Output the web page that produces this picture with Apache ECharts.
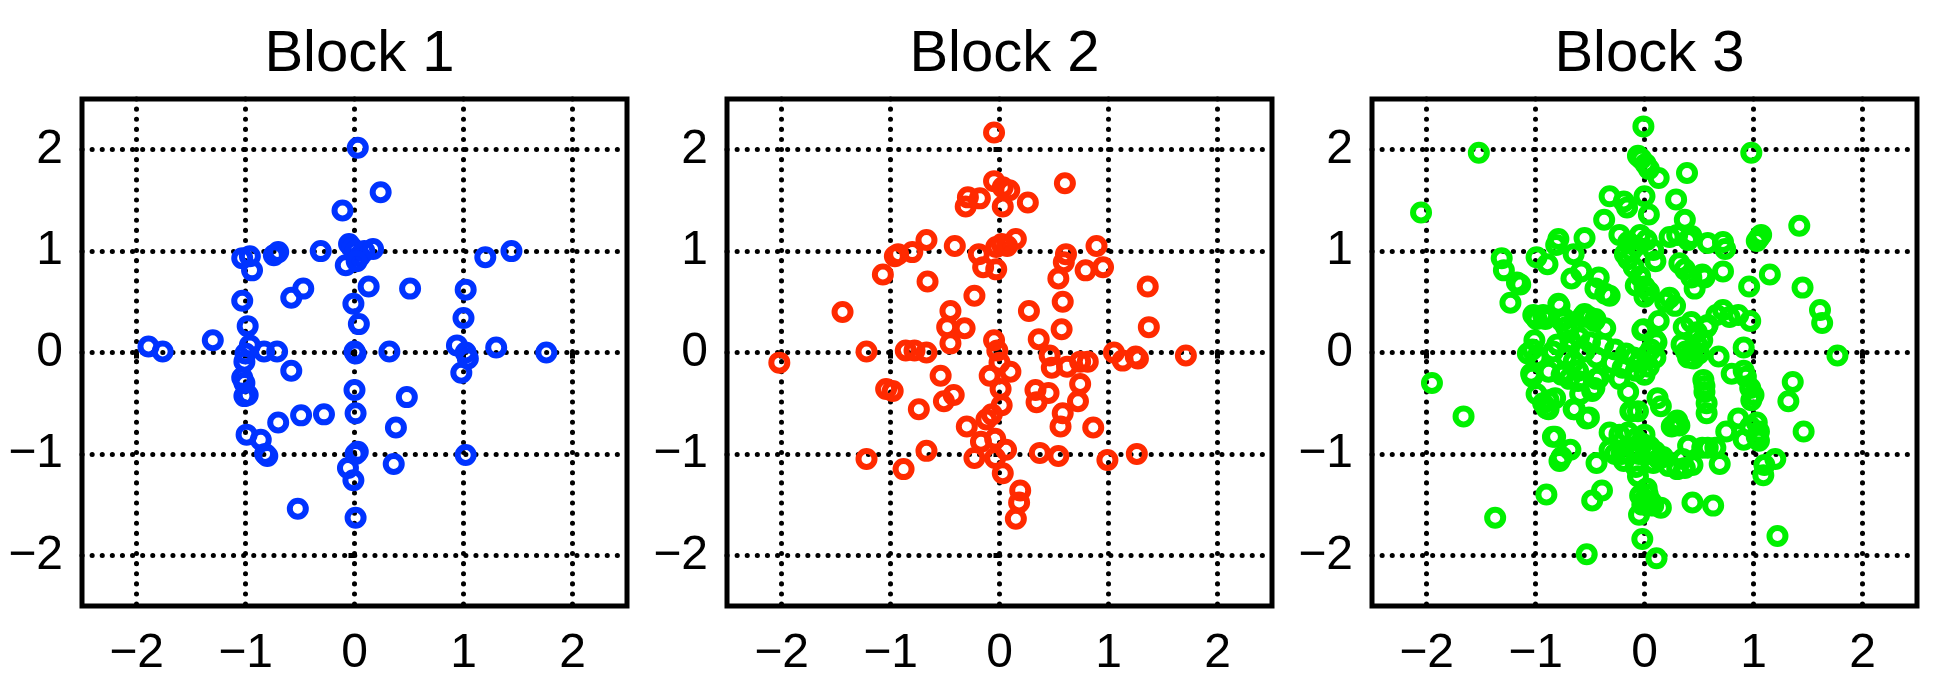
<!DOCTYPE html>
<html>
<head>
<meta charset="utf-8">
<script src="https://cdn.jsdelivr.net/npm/echarts@6/dist/echarts.min.js"></script>
<style>
html,body{margin:0;padding:0;background:#fff;}
#chart{width:1935px;height:678px;}
</style>
</head>
<body>
<div id="chart"></div>
<script>
const titles = ['Block 1', 'Block 2', 'Block 3'];
const colors = ['#0033ff', '#ff2a00', '#00f000'];
const tickValues = [-2, -1, 0, 1, 2];

const block1 = [
[0.03,2.02],[0.24,1.58],[-0.11,1.40],
[-0.05,1.07],[-0.02,1.03],[0.01,1.0],[0.05,0.95],[0.09,1.0],[0.17,1.02],[-0.08,0.86],[0.02,0.90],
[-0.31,1.0],[-0.74,0.96],[-0.70,0.99],[-1.03,0.93],[-0.96,0.95],[-0.94,0.81],
[1.20,0.94],[1.44,1.00],
[-0.58,0.54],[-0.47,0.63],[0.13,0.65],[0.51,0.63],[1.02,0.62],
[-1.03,0.51],[-0.01,0.48],[0.04,0.28],[1.00,0.34],[-0.98,0.26],
[-1.89,0.06],[-1.76,0.01],[-1.30,0.12],[-0.96,0.07],[-1.0,-0.01],[-1.01,-0.09],[-0.83,0.01],[-0.71,0.01],[-0.58,-0.18],
[-1.03,-0.25],[-1.01,-0.30],[-0.98,-0.42],[-1.01,-0.43],
[0,0.01],[0.01,-0.01],[0.32,0.01],[0.94,0.07],[1.02,0],[1.04,-0.06],[0.98,-0.20],[1.30,0.05],[1.76,0],
[0,-0.37],[0.48,-0.44],[0.01,-0.60],[-0.70,-0.69],[-0.49,-0.62],[-0.28,-0.61],[0.38,-0.74],[-0.99,-0.81],[-0.86,-0.86],
[-0.82,-1.0],[-0.80,-1.02],[0.01,-1.0],[0.03,-0.98],[-0.06,-1.14],[-0.01,-1.26],[0.36,-1.10],[1.02,-1.01],[-0.52,-1.54],[0.01,-1.63]
];

const block2 = [
[-0.05,2.17],[0.60,1.67],[-0.05,1.69],[0.03,1.63],[0.09,1.60],[0.03,1.44],[0.26,1.48],[-0.29,1.53],[-0.18,1.52],[-0.31,1.44],
[-0.67,1.11],[-0.41,1.05],[-0.96,0.95],[-0.93,0.97],[-0.80,0.99],[-1.07,0.77],[-0.66,0.70],
[-0.19,0.97],[-0.15,0.84],[-0.03,0.82],[-0.03,1.04],[0.02,1.07],[0.07,1.05],[0.15,1.12],
[0.61,0.97],[0.59,0.89],[0.54,0.73],[0.89,1.05],[0.79,0.81],[0.95,0.84],[1.36,0.65],
[-0.23,0.56],[0.58,0.50],[-1.44,0.40],[-0.45,0.41],[-0.48,0.25],[-0.32,0.24],[-0.45,0.09],[0.27,0.41],[0.57,0.23],[1.37,0.25],[-0.05,0.12],[0.36,0.13],
[-2.02,-0.10],[-1.22,0.01],[-0.86,0.02],[-0.78,0.02],[-0.67,0],
[-0.02,0.02],[0,-0.10],[0.10,-0.19],[-0.09,-0.23],[0.01,-0.36],[0.02,-0.52],[-0.07,-0.61],[-0.12,-0.66],[-0.17,-0.88],[-0.04,-0.85],
[0.06,-0.96],[-0.04,-1.04],[0.03,-1.19],[0.19,-1.36],[0.18,-1.48],[0.15,-1.64],[-0.23,-1.04],[-0.30,-0.73],
[0.46,-0.03],[0.48,-0.15],[0.62,-0.14],[0.74,-0.09],[0.81,-0.09],[0.74,-0.31],[0.72,-0.48],[0.33,-0.37],[0.34,-0.49],[0.45,-0.40],[0.58,-0.60],[0.56,-0.73],[0.86,-0.74],
[1.05,0],[1.13,-0.08],[1.25,-0.04],[1.27,-0.06],[1.71,-0.03],
[-1.04,-0.36],[-0.98,-0.38],[-0.54,-0.23],[-0.51,-0.48],[-0.42,-0.42],[-0.74,-0.56],
[-1.22,-1.05],[-0.88,-1.15],[-0.67,-0.97],[0.37,-0.99],[0.54,-1.02],[0.99,-1.06],[1.26,-1.0]
];

const block3 = [
[-0.01,2.23],[-1.52,1.97],[0.98,1.97],[-2.05,1.38],
[-0.06,1.94],[-0.03,1.91],[0.01,1.86],[0.04,1.81],[0.13,1.72],[0.39,1.77],
[-0.32,1.54],[-0.19,1.49],[-0.16,1.43],[0.0,1.54],[0.04,1.36],[0.29,1.51],[0.37,1.31],[-0.37,1.31],
[1.42,1.25],[1.07,1.16],[1.03,1.10],[1.05,1.13],
[-0.55,1.13],[-0.79,1.12],[-0.81,1.06],[-0.65,0.97],
[-0.23,1.16],[-0.15,1.09],[-0.08,1.05],[-0.04,1.16],[0.02,1.11],[0.08,1.01],[-0.15,0.92],[-0.10,0.84],[-0.04,0.75],[0.0,0.65],[-0.08,0.66],[0.0,0.55],[0.04,0.60],[0.10,0.90],[-0.18,0.97],[-0.12,1.0],
[0.23,1.14],[0.30,1.16],[0.40,1.11],[0.43,1.15],[0.58,1.08],[0.72,1.09],[0.74,1.02],
[-0.99,0.94],[-0.89,0.87],[-1.31,0.93],[-1.29,0.81],[-1.17,0.69],[-1.14,0.67],[-1.23,0.49],
[1.15,0.77],[1.45,0.64],[0.96,0.65],[0.72,0.80],
[0.32,0.88],[0.37,0.82],[0.43,0.74],[0.46,0.63],[0.55,0.74],[0.53,0.77],
[1.61,0.42],[1.63,0.29],[1.77,-0.03],
[-0.67,0.73],[-0.58,0.80],[-0.42,0.74],[-0.45,0.63],[-0.32,0.56],[-0.36,0.58],
[-1.02,0.37],[-0.93,0.37],[-0.79,0.48],[-0.73,0.33],[-0.55,0.38],[-0.45,0.33],[-0.36,0.24],[-0.51,0.35],
[0.19,0.50],[0.23,0.54],[0.28,0.46],[0.13,0.31],[-0.01,0.23],[0.10,0.12],
[0.72,0.42],[0.78,0.35],[0.86,0.37],[0.97,0.31],[0.66,0.37],
[0.36,0.25],[0.48,0.20],[0.57,0.25],[0.58,0.27],[0.43,0.30],
[-0.78,0.46],[-0.99,0.33],[-0.91,0.33],[-0.76,0.31],[-0.72,0.25],[-0.70,0.20],[-0.57,0.35],[-0.46,0.31],[-0.38,0.08],[-0.27,0.03],[-0.17,-0.01],[-0.10,-0.05],
[-1.01,0.12],[-1.03,0.03],[-1.07,-0.01],[-0.99,-0.05],[-0.80,0.08],[-0.84,0.01],[-0.72,-0.05],[-0.65,-0.09],[-0.61,-0.18],[-0.55,0.01],[-0.44,-0.05],[-0.68,0.12],[-0.60,0.15],[-0.50,0.10],
[-0.88,-0.19],[-1.03,-0.24],[-0.76,-0.22],[-0.69,-0.26],[-0.61,-0.28],[-1.04,-0.21],[-0.73,-0.19],
[-0.99,-0.41],[-0.93,-0.50],[-0.88,-0.56],[-0.82,-0.45],[-0.88,-0.47],[-0.90,-0.55],
[-0.65,-0.56],[-0.59,-0.41],[-0.51,-0.64],[-0.46,-0.35],[-0.44,-0.26],[-0.42,-0.25],[-0.48,-0.38],[-0.64,-0.56],[-0.53,-0.65],
[-0.23,-0.26],[-0.15,-0.39],[-0.13,-0.58],[-0.12,-0.58],
[-0.08,-0.18],[0.0,-0.22],[0.04,-0.14],[0.10,-0.05],[0.11,0.10],[-0.02,0.22],[0.02,-0.03],[0.06,0.03],[-0.05,-0.10],[-0.30,-0.10],[-0.20,-0.15],
[0.34,0.08],[0.38,0.01],[0.44,0.03],[0.50,-0.01],[0.48,0.08],[0.53,0.12],[0.40,-0.05],[0.45,-0.06],
[0.68,-0.04],[0.91,0.05],[0.80,-0.21],[0.91,-0.18],[0.93,-0.24],[0.97,-0.35],[1.0,-0.42],[0.98,-0.47],
[0.54,-0.27],[0.55,-0.39],[0.57,-0.50],[0.57,-0.60],[0.55,-0.33],
[1.36,-0.29],[1.32,-0.48],[1.46,-0.78],
[0.15,-0.53],[0.30,-0.67],[0.32,-0.72],[0.25,-0.73],[0.28,-0.70],
[0.75,-0.78],[0.86,-0.65],[0.97,-0.73],[0.91,-0.86],[1.03,-0.83],[1.05,-0.87],[1.05,-0.78],[1.03,-0.69],
[0.40,-0.92],[0.53,-0.94],[0.58,-0.94],[0.65,-0.94],[0.69,-1.10],
[1.20,-1.05],[1.10,-1.11],[1.09,-1.21],
[0.17,-1.03],[0.22,-1.12],[0.30,-1.15],[0.37,-1.14],[0.44,-1.11],[0.35,-1.05],
[0.44,-1.48],[0.63,-1.51],[1.22,-1.81],[0.11,-2.03],
[-0.02,-1.84],[-0.05,-1.60],[-0.04,-1.41],[0.0,-1.45],[0.02,-1.34],[0.06,-1.47],[0.15,-1.53],[0.08,-1.51],[0.03,-1.40],[-0.02,-1.50],[-0.06,-1.22],[-0.08,-1.13],
[-0.11,-0.94],[-0.02,-0.90],[0.0,-0.81],[-0.15,-0.79],[-0.23,-0.81],[-0.32,-0.79],[-0.19,-1.07],[-0.27,-1.0],[-0.32,-0.96],[-0.44,-1.09],[-0.21,-1.0],[-0.05,-1.0],[-0.08,-0.85],[0.05,-0.93],
[0.04,-1.0],[0.08,-1.09],[0.13,-1.05],[0.10,-0.98],
[-0.39,-1.36],[-0.48,-1.46],[-0.90,-1.40],[-1.37,-1.63],[-0.53,-1.99],
[-0.84,-0.83],[-0.76,-1.03],[-0.68,-0.96],[-0.78,-1.07],[-0.82,-0.83],
[-1.66,-0.63],[-1.95,-0.30],
[-0.06,-0.58],[0.12,-0.45]
];

const blocks = [block1, block2, block3];

const chart = echarts.init(document.getElementById('chart'), null, {renderer: 'canvas'});
const lefts = [82, 727, 1372];
const gridW = 545, gridH = 510, gridTop = 99;
const font = 'Liberation Sans, Arial, Helvetica, sans-serif';
const fmt = v => (v < 0 ? '\u2212' + Math.abs(v) : String(v));

function axis(gridIndex, isX) {
  return {
    type: 'value', gridIndex: gridIndex, min: -2.5, max: 2.5, splitNumber: 5,
    axisLine: {show: false},
    axisTick: {show: true, inside: false, length: 6, customValues: tickValues, lineStyle: {color: '#000', width: 5}},
    axisLabel: {show: true, customValues: tickValues, margin: isX ? 24 : 19,
      fontSize: 48, color: '#000', fontFamily: font, formatter: fmt},
    splitLine: {show: true, lineStyle: {color: '#000', width: 5, type: [0.1, 10], cap: 'round'}}
  };
}

const option = {
  animation: false,
  backgroundColor: '#fff',
  title: titles.map((t, i) => ({
    text: t, left: lefts[i] + gridW / 2, top: 21, textAlign: 'center',
    textStyle: {fontSize: 58, fontWeight: 'normal', color: '#000', fontFamily: font}
  })),
  grid: lefts.map(l => ({left: l, top: gridTop, width: gridW, height: gridH, show: true,
    borderColor: '#000', borderWidth: 5, backgroundColor: 'transparent', containLabel: false})),
  xAxis: [0, 1, 2].map(i => axis(i, true)),
  yAxis: [0, 1, 2].map(i => axis(i, false)),
  series: blocks.map((d, i) => ({
    type: 'scatter', xAxisIndex: i, yAxisIndex: i, data: d,
    symbol: 'circle', symbolSize: 16,
    itemStyle: {color: 'rgba(0,0,0,0)', borderColor: colors[i], borderWidth: 6, opacity: 1},
    emphasis: {disabled: true}
  }))
};
chart.setOption(option);
</script>
</body>
</html>
